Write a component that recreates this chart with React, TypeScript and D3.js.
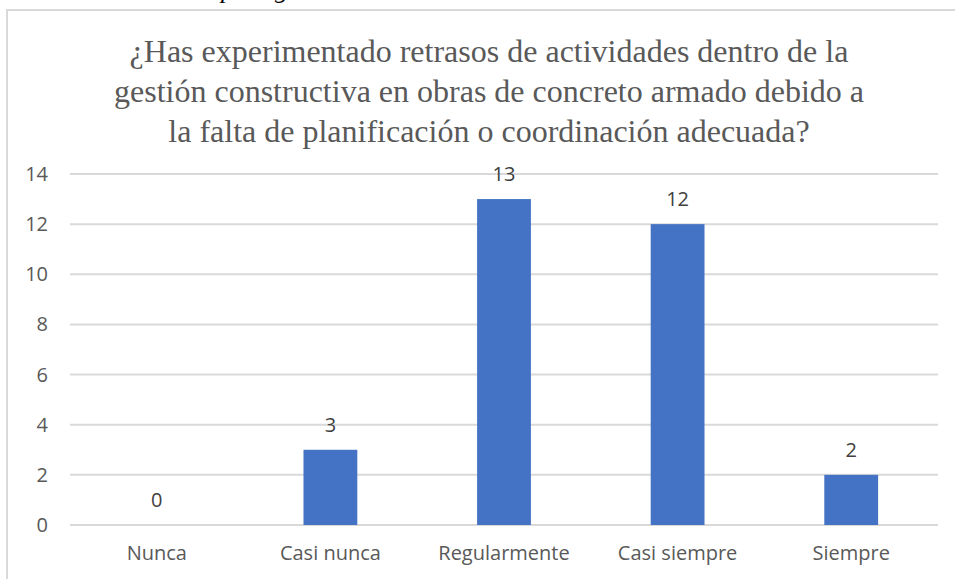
import React from "react";
import * as d3 from "d3";

const categories = ["Nunca", "Casi nunca", "Regularmente", "Casi siempre", "Siempre"];
const values = [0, 3, 13, 12, 2];
const yTicks = [0, 2, 4, 6, 8, 10, 12, 14];
const titleLines = [
  "¿Has experimentado retrasos de actividades  dentro de la",
  "gestión constructiva en obras de concreto armado debido a",
  "la falta de planificación  o coordinación adecuada?",
];

const W = 955;
const H = 579;
const plot = { left: 70, right: 938, top: 174, bottom: 525 };

export default function App() {
  const x = d3
    .scaleBand<string>()
    .domain(categories)
    .range([plot.left, plot.right])
    .paddingInner(0.69)
    .paddingOuter(0.345);
  const y = d3.scaleLinear().domain([0, 14]).range([plot.bottom, plot.top]);
  const band = d3.scaleBand<string>().domain(categories).range([plot.left, plot.right]);
  const grey = "#595959";
  const font = "'Open Sans', sans-serif";

  return (
    <svg
      width={W}
      height={H}
      style={{ position: "absolute", left: 0, top: 0, background: "#fff" }}
    >
      <rect x={0} y={0} width={W} height={H} fill="#fff" />
      <text
        fontFamily="'Liberation Serif', serif"
        fontStyle="italic"
        fontSize={26}
        fill="#000"
        y={-2}
      >
        <tspan x={221}>p</tspan>
        <tspan x={275}>g</tspan>
      </text>
      <rect
        x={7}
        y={10}
        width={980}
        height={600}
        fill="#fff"
        stroke="#d9d9d9"
        strokeWidth={2}
      />
      {titleLines.map((t, i) => (
        <text
          key={i}
          x={489}
          y={62 + i * 40}
          textAnchor="middle"
          fontFamily="'Liberation Serif', 'Times New Roman', serif"
          fontSize={32}
          fill={grey}
        >
          {t}
        </text>
      ))}
      {yTicks.map((t) => (
        <g key={t}>
          <line
            x1={plot.left}
            x2={plot.right}
            y1={y(t)}
            y2={y(t)}
            stroke="#d9d9d9"
            strokeWidth={2}
          />
          <text
            x={48}
            y={y(t) + 7}
            textAnchor="end"
            fontFamily={font}
            fontSize={20}
            fill={grey}
          >
            {t}
          </text>
        </g>
      ))}
      {categories.map((c, i) => (
        <g key={c}>
          {values[i] > 0 && (
            <rect
              x={x(c)}
              y={y(values[i])}
              width={x.bandwidth()}
              height={y(0) - y(values[i])}
              fill="#4472c4"
            />
          )}
          <text
            x={(band(c) as number) + band.bandwidth() / 2}
            y={y(values[i]) - 18}
            textAnchor="middle"
            fontFamily={font}
            fontSize={20}
            fill="#404040"
          >
            {values[i]}
          </text>
          <text
            x={(band(c) as number) + band.bandwidth() / 2}
            y={560}
            textAnchor="middle"
            fontFamily={font}
            fontSize={20}
            fill={grey}
          >
            {c}
          </text>
        </g>
      ))}
    </svg>
  );
}
